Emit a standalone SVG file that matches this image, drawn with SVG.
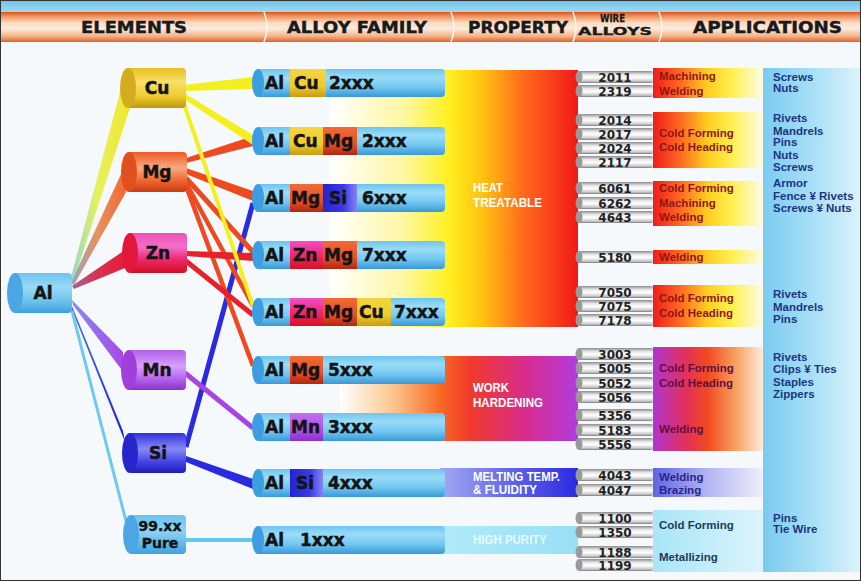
<svg xmlns="http://www.w3.org/2000/svg" width="861" height="581" viewBox="0 0 861 581">
<style>
.hd{font-family:"DejaVu Sans",sans-serif;font-weight:bold;font-size:15px;fill:#1a1a1a;stroke:#1a1a1a;stroke-width:0.4}
.hds{font-family:"DejaVu Sans",sans-serif;font-weight:bold;font-size:10px;fill:#1a1a1a;stroke:#1a1a1a;stroke-width:0.3}
.el{font-family:"DejaVu Sans",sans-serif;font-weight:bold;font-size:17px;fill:#141414;text-anchor:middle;stroke:#141414;stroke-width:0.5}
.el2{font-family:"DejaVu Sans",sans-serif;font-weight:bold;font-size:14px;fill:#141414;text-anchor:middle;stroke:#141414;stroke-width:0.4}
.bt{font-family:"DejaVu Sans",sans-serif;font-weight:bold;font-size:17px;fill:#141414;stroke:#141414;stroke-width:0.5}
.pl{font-family:"Liberation Sans",sans-serif;font-weight:bold;font-size:12px;fill:#ffffff}
.rt{font-family:"DejaVu Sans",sans-serif;font-weight:bold;font-size:12px;fill:#222;text-anchor:middle}
.wl{font-family:"Liberation Sans",sans-serif;font-weight:bold;font-size:11.5px}
.ht{fill:#8e1616}.wh{fill:#5e1040}.mt{fill:#26268a}.pu{fill:#1e3a5a}
.ap{font-family:"Liberation Sans",sans-serif;font-weight:bold;font-size:11.5px;fill:#1c3580}
.rod{fill:url(#gRod)}
.rodcap{fill:#9a9a9a}
.bar{fill:url(#gBar)}
.barcap{fill:#3c9ee0}
</style>
<defs>
<linearGradient id="gSky" x1="0" y1="0" x2="0" y2="1"><stop offset="0" stop-color="#6ec2e8"/><stop offset="1" stop-color="#a6dcf2"/></linearGradient>
<linearGradient id="gHead" x1="0" y1="0" x2="0" y2="1"><stop offset="0" stop-color="#d9541c"/><stop offset="0.12" stop-color="#ee8a50"/><stop offset="0.35" stop-color="#fbd9c0"/><stop offset="0.55" stop-color="#fdebdc"/><stop offset="0.8" stop-color="#f4b48a"/><stop offset="1" stop-color="#e06228"/></linearGradient>
<linearGradient id="gHeat" gradientUnits="userSpaceOnUse" x1="330" y1="0" x2="578" y2="0"><stop offset="0" stop-color="#ffffff"/><stop offset="0.3" stop-color="#fff7a0"/><stop offset="0.48" stop-color="#fff020"/><stop offset="0.62" stop-color="#ffc010"/><stop offset="0.78" stop-color="#ff6a1c"/><stop offset="1" stop-color="#f21818"/></linearGradient>
<linearGradient id="gWork" gradientUnits="userSpaceOnUse" x1="340" y1="0" x2="578" y2="0"><stop offset="0" stop-color="#ffffff"/><stop offset="0.22" stop-color="#fcc890"/><stop offset="0.42" stop-color="#f86a24"/><stop offset="0.55" stop-color="#f03a2c"/><stop offset="0.78" stop-color="#d82c8c"/><stop offset="1" stop-color="#b03ce0"/></linearGradient>
<linearGradient id="gMelt" gradientUnits="userSpaceOnUse" x1="445" y1="0" x2="578" y2="0"><stop offset="0" stop-color="#a0a4f2"/><stop offset="0.5" stop-color="#6064e8"/><stop offset="1" stop-color="#2a2ade"/></linearGradient>
<linearGradient id="gPure" gradientUnits="userSpaceOnUse" x1="445" y1="0" x2="578" y2="0"><stop offset="0" stop-color="#b0eafa"/><stop offset="1" stop-color="#98e0f6"/></linearGradient>
<linearGradient id="sHeat" gradientUnits="userSpaceOnUse" x1="653" y1="0" x2="763" y2="0"><stop offset="0" stop-color="#f01c1c"/><stop offset="0.25" stop-color="#ff6a20"/><stop offset="0.5" stop-color="#ffd020"/><stop offset="0.72" stop-color="#fff050"/><stop offset="1" stop-color="#fdfbe6"/></linearGradient>
<linearGradient id="sWork" gradientUnits="userSpaceOnUse" x1="653" y1="0" x2="763" y2="0"><stop offset="0" stop-color="#b034d0"/><stop offset="0.3" stop-color="#e2305a"/><stop offset="0.5" stop-color="#f24a20"/><stop offset="0.75" stop-color="#f8a060"/><stop offset="1" stop-color="#fcecdc"/></linearGradient>
<linearGradient id="sMelt" gradientUnits="userSpaceOnUse" x1="653" y1="0" x2="763" y2="0"><stop offset="0" stop-color="#6064e6"/><stop offset="0.5" stop-color="#b4b6f2"/><stop offset="1" stop-color="#eeeefc"/></linearGradient>
<linearGradient id="sPure" gradientUnits="userSpaceOnUse" x1="653" y1="0" x2="763" y2="0"><stop offset="0" stop-color="#a8e6f8"/><stop offset="1" stop-color="#dcf4fb"/></linearGradient>
<linearGradient id="gApp" x1="0" y1="0" x2="1" y2="0"><stop offset="0" stop-color="#7acbf0"/><stop offset="0.5" stop-color="#a8dff6"/><stop offset="1" stop-color="#dcf3fb"/></linearGradient>
<linearGradient id="gRod" x1="0" y1="0" x2="0" y2="1"><stop offset="0" stop-color="#8c8c8c"/><stop offset="0.3" stop-color="#e8e8e8"/><stop offset="0.55" stop-color="#ffffff"/><stop offset="0.85" stop-color="#c8c8c8"/><stop offset="1" stop-color="#7a7a7a"/></linearGradient>
<linearGradient id="gBar" x1="0" y1="0" x2="0" y2="1"><stop offset="0" stop-color="#6ec4ee"/><stop offset="0.3" stop-color="#9adcf8"/><stop offset="0.65" stop-color="#72c8f0"/><stop offset="1" stop-color="#3a98d8"/></linearGradient>
<linearGradient id="gAl" x1="0" y1="0" x2="0" y2="1"><stop offset="0" stop-color="#6cc4ee"/><stop offset="0.35" stop-color="#9ad8f6"/><stop offset="0.7" stop-color="#6cc4ee"/><stop offset="1" stop-color="#3e9edc"/></linearGradient>
<linearGradient id="gCu" x1="0" y1="0" x2="0" y2="1"><stop offset="0" stop-color="#e8c020"/><stop offset="0.35" stop-color="#f8e068"/><stop offset="0.7" stop-color="#f0cc30"/><stop offset="1" stop-color="#c09810"/></linearGradient>
<linearGradient id="gMg" x1="0" y1="0" x2="0" y2="1"><stop offset="0" stop-color="#ec5a24"/><stop offset="0.4" stop-color="#f8aa80"/><stop offset="0.7" stop-color="#f06a34"/><stop offset="1" stop-color="#c83a10"/></linearGradient>
<linearGradient id="gZn" x1="0" y1="0" x2="0" y2="1"><stop offset="0" stop-color="#f050b8"/><stop offset="0.35" stop-color="#f070c8"/><stop offset="0.65" stop-color="#f02870"/><stop offset="1" stop-color="#d01020"/></linearGradient>
<linearGradient id="gMn" x1="0" y1="0" x2="0" y2="1"><stop offset="0" stop-color="#b060ec"/><stop offset="0.4" stop-color="#d8a0fa"/><stop offset="0.7" stop-color="#b868f0"/><stop offset="1" stop-color="#8a30cc"/></linearGradient>
<linearGradient id="gSi" x1="0" y1="0" x2="0" y2="1"><stop offset="0" stop-color="#3030dc"/><stop offset="0.4" stop-color="#8888f8"/><stop offset="0.7" stop-color="#4848e8"/><stop offset="1" stop-color="#1c1cb8"/></linearGradient>
<linearGradient id="gPureEl" x1="0" y1="0" x2="0" y2="1"><stop offset="0" stop-color="#6ac4ee"/><stop offset="0.4" stop-color="#8ed4f6"/><stop offset="1" stop-color="#40a2e0"/></linearGradient>
<linearGradient id="sgCu" x1="0" y1="0" x2="0" y2="1"><stop offset="0" stop-color="#f4d440"/><stop offset="0.6" stop-color="#f0cc30"/><stop offset="1" stop-color="#c89c10"/></linearGradient>
<linearGradient id="sgMg" x1="0" y1="0" x2="0" y2="1"><stop offset="0" stop-color="#f06a34"/><stop offset="0.6" stop-color="#e8502a"/><stop offset="1" stop-color="#b02810"/></linearGradient>
<linearGradient id="sgZn" x1="0" y1="0" x2="0" y2="1"><stop offset="0" stop-color="#f050c8"/><stop offset="0.5" stop-color="#f02870"/><stop offset="1" stop-color="#d81020"/></linearGradient>
<linearGradient id="sgSi" x1="0" y1="0" x2="1" y2="0"><stop offset="0" stop-color="#2424d0"/><stop offset="0.6" stop-color="#3a3ae4"/><stop offset="1" stop-color="#8484f4"/></linearGradient>
<linearGradient id="sgMn" x1="0" y1="0" x2="0" y2="1"><stop offset="0" stop-color="#c070f0"/><stop offset="0.6" stop-color="#b050e8"/><stop offset="1" stop-color="#8a30cc"/></linearGradient>
<linearGradient id="wCu" x1="0" y1="0" x2="1" y2="0"><stop offset="0" stop-color="#90d8d0"/><stop offset="0.45" stop-color="#e8f060"/><stop offset="1" stop-color="#f0e830"/></linearGradient>
<linearGradient id="wMg" x1="0" y1="0" x2="1" y2="0"><stop offset="0" stop-color="#9aa4c0"/><stop offset="0.5" stop-color="#e89060"/><stop offset="1" stop-color="#f06a30"/></linearGradient>
<linearGradient id="wZn" x1="0" y1="0" x2="1" y2="0"><stop offset="0" stop-color="#a06890"/><stop offset="0.5" stop-color="#d83050"/><stop offset="1" stop-color="#e81c38"/></linearGradient>
<linearGradient id="wMn" x1="0" y1="0" x2="1" y2="0"><stop offset="0" stop-color="#8a8ae8"/><stop offset="1" stop-color="#a848e8"/></linearGradient>
<linearGradient id="wSi" x1="0" y1="0" x2="1" y2="0"><stop offset="0" stop-color="#4a70e4"/><stop offset="1" stop-color="#2222d8"/></linearGradient>
</defs>

<rect x="0" y="0" width="861" height="581" fill="#f6f9fb"/>

<g id="header">
<rect x="0" y="0" width="861" height="13" fill="url(#gSky)"/>
<rect x="0" y="12" width="861" height="30" fill="url(#gHead)"/>
<path d="M264,12 Q270,27 264,42 M451,12 Q457,27 451,42 M573,12 Q579,27 573,42 M659,12 Q665,27 659,42" fill="none" stroke="#fff6ee" stroke-width="1.5"/>
<text class="hd" x="81" y="33" textLength="106" lengthAdjust="spacingAndGlyphs">ELEMENTS</text>
<text class="hd" x="287" y="33" textLength="140" lengthAdjust="spacingAndGlyphs">ALLOY FAMILY</text>
<text class="hd" x="468" y="33" textLength="100" lengthAdjust="spacingAndGlyphs">PROPERTY</text>
<text class="hds" x="600" y="22" textLength="25" lengthAdjust="spacingAndGlyphs">WIRE</text>
<text class="hds" x="578" y="35" textLength="74" lengthAdjust="spacingAndGlyphs">ALLOYS</text>
<text class="hd" x="693" y="33" textLength="149" lengthAdjust="spacingAndGlyphs">APPLICATIONS</text>
</g>

<g id="property-bands">
<rect x="330" y="70" width="248" height="257" fill="url(#gHeat)"/>
<rect x="340" y="356" width="238" height="85" fill="url(#gWork)"/>
<rect x="440" y="468" width="138" height="29" fill="url(#gMelt)"/>
<rect x="440" y="526" width="138" height="28" fill="url(#gPure)"/>
<text class="pl" x="473" y="192" textLength="30" lengthAdjust="spacingAndGlyphs">HEAT</text>
<text class="pl" x="473" y="207" textLength="69" lengthAdjust="spacingAndGlyphs">TREATABLE</text>
<text class="pl" x="473" y="392" textLength="36" lengthAdjust="spacingAndGlyphs">WORK</text>
<text class="pl" x="473" y="407" textLength="70" lengthAdjust="spacingAndGlyphs">HARDENING</text>
<text class="pl" x="473" y="481" textLength="87" lengthAdjust="spacingAndGlyphs">MELTING TEMP.</text>
<text class="pl" x="473" y="494" textLength="64" lengthAdjust="spacingAndGlyphs">&amp; FLUIDITY</text>
<text class="pl" x="473" y="544" textLength="74" lengthAdjust="spacingAndGlyphs" fill-opacity="0.75">HIGH PURITY</text>
</g>

<g id="wire-strips">
<rect x="653" y="68" width="110" height="30" fill="url(#sHeat)"/>
<rect x="653" y="112" width="110" height="56" fill="url(#sHeat)"/>
<rect x="653" y="181" width="110" height="45" fill="url(#sHeat)"/>
<rect x="653" y="250" width="110" height="14" fill="url(#sHeat)"/>
<rect x="653" y="285" width="110" height="42" fill="url(#sHeat)"/>
<rect x="653" y="347" width="110" height="104" fill="url(#sWork)"/>
<rect x="653" y="468" width="110" height="29" fill="url(#sMelt)"/>
<rect x="653" y="510" width="110" height="62" fill="url(#sPure)"/>
</g>

<g id="applications-band">
<rect x="763" y="68" width="98" height="504" fill="url(#gApp)"/>
</g>

<g id="connectors">
<polygon points="70,281 73,283 130,108 120,92" fill="url(#wCu)"/>
<polygon points="71,283 74,285 126,192 121,174" fill="url(#wMg)"/>
<polygon points="72,286 74,289 125,268 125,250" fill="url(#wZn)"/>
<polygon points="72,300 73,305 124,373 123,352" fill="url(#wMn)"/>
<polygon points="72,306 72,310 125,442 123,431" fill="url(#wSi)"/>
<line x1="72" y1="311" x2="126" y2="521" stroke="#6ccaf0" stroke-width="3"/>
<line x1="186" y1="447" x2="253" y2="203" stroke="#2a2ae0" stroke-width="5"/>
<polygon points="186,456 186,462 253,489 253,479" fill="#2a2ae0"/>
<polygon points="186,158 186,163 253,146 253,136" fill="#ee4a22"/>
<polygon points="186,168 186,174 253,201 253,191" fill="#ee4a22"/>
<line x1="186" y1="178" x2="253" y2="252" stroke="#ee4a22" stroke-width="5"/>
<line x1="186" y1="183" x2="253" y2="306" stroke="#ee4a22" stroke-width="4.5"/>
<line x1="186" y1="186" x2="253" y2="366" stroke="#ee4a22" stroke-width="4.5"/>
<polygon points="186,251 186,256 253,261 253,253" fill="#e8202a"/>
<line x1="186" y1="261" x2="253" y2="315" stroke="#e8202a" stroke-width="5"/>
<polygon points="184,85 184,91 253,89 253,77" fill="#f4f020"/>
<polygon points="184,93 184,99 253,145 253,135" fill="#f4f020"/>
<line x1="184" y1="104" x2="253" y2="306" stroke="#f4f020" stroke-width="4"/>
<line x1="185" y1="373" x2="253" y2="428" stroke="#a844e4" stroke-width="5"/>
<line x1="185" y1="540" x2="253" y2="540" stroke="#62c8f0" stroke-width="4"/>
</g>

<g id="node-Al">
<path d="M15,273 H68 Q72,273 72,277 V309 Q72,313 68,313 H15 Z" fill="url(#gAl)"/>
<ellipse cx="15" cy="293" rx="8" ry="20" fill="#4aa6e4"/>
<text class="el" x="43" y="299">Al</text>
</g>
<g id="node-Cu">
<path d="M128,68 H182 Q186,68 186,72 V104 Q186,108 182,108 H128 Z" fill="url(#gCu)"/>
<ellipse cx="128" cy="88" rx="8" ry="20" fill="#d4ac1c"/>
<text class="el" x="157" y="94">Cu</text>
</g>
<g id="node-Mg">
<path d="M129,152 H183 Q187,152 187,156 V188 Q187,192 183,192 H129 Z" fill="url(#gMg)"/>
<ellipse cx="129" cy="172" rx="8" ry="20" fill="#e0501e"/>
<text class="el" x="157" y="178">Mg</text>
</g>
<g id="node-Zn">
<path d="M130,233 H183 Q187,233 187,237 V269 Q187,273 183,273 H130 Z" fill="url(#gZn)"/>
<ellipse cx="130" cy="253" rx="8" ry="20" fill="#e0183a"/>
<text class="el" x="158" y="259">Zn</text>
</g>
<g id="node-Mn">
<path d="M129,350 H182 Q186,350 186,354 V386 Q186,390 182,390 H129 Z" fill="url(#gMn)"/>
<ellipse cx="129" cy="370" rx="8" ry="20" fill="#a040dc"/>
<text class="el" x="157" y="376">Mn</text>
</g>
<g id="node-Si">
<path d="M130,433 H182 Q186,433 186,437 V469 Q186,473 182,473 H130 Z" fill="url(#gSi)"/>
<ellipse cx="130" cy="453" rx="8" ry="20" fill="#2626cc"/>
<text class="el" x="158" y="459">Si</text>
</g>
<g id="node-Pure">
<path d="M131,515 H182 Q186,515 186,519 V550 Q186,554 182,554 H131 Z" fill="url(#gPureEl)"/>
<ellipse cx="131" cy="534.5" rx="8" ry="19.5" fill="#4aa6e4"/>
<text class="el2" x="160" y="531">99.xx</text>
<text class="el2" x="160" y="548">Pure</text>
</g>

<g id="bar-2xxx-Cu">
<path d="M258,69 H441 Q445,69 445,73 V93 Q445,97 441,97 H258 Z" class="bar"/>
<rect x="290" y="69" width="36" height="28" fill="url(#sgCu)"/>
<ellipse cx="258" cy="83" rx="6" ry="14" class="barcap"/>
<text class="bt" x="265" y="89">Al</text><text class="bt" x="294" y="89">Cu</text><text class="bt" x="329" y="89">2xxx</text>
</g>
<g id="bar-2xxx-CuMg">
<path d="M258,127 H441 Q445,127 445,131 V151 Q445,155 441,155 H258 Z" class="bar"/>
<rect x="290" y="127" width="33" height="28" fill="url(#sgCu)"/>
<rect x="323" y="127" width="34" height="28" fill="url(#sgMg)"/>
<ellipse cx="258" cy="141" rx="6" ry="14" class="barcap"/>
<text class="bt" x="265" y="147">Al</text><text class="bt" x="293" y="147">Cu</text><text class="bt" x="324" y="147">Mg</text><text class="bt" x="362" y="147">2xxx</text>
</g>
<g id="bar-6xxx">
<path d="M258,184 H441 Q445,184 445,188 V208 Q445,212 441,212 H258 Z" class="bar"/>
<rect x="290" y="184" width="33" height="28" fill="url(#sgMg)"/>
<rect x="323" y="184" width="34" height="28" fill="url(#sgSi)"/>
<ellipse cx="258" cy="198" rx="6" ry="14" class="barcap"/>
<text class="bt" x="265" y="204">Al</text><text class="bt" x="291" y="204">Mg</text><text class="bt" x="329" y="204">Si</text><text class="bt" x="362" y="204">6xxx</text>
</g>
<g id="bar-7xxx-ZnMg">
<path d="M258,241 H441 Q445,241 445,245 V265 Q445,269 441,269 H258 Z" class="bar"/>
<rect x="290" y="241" width="33" height="28" fill="url(#sgZn)"/>
<rect x="323" y="241" width="34" height="28" fill="url(#sgMg)"/>
<ellipse cx="258" cy="255" rx="6" ry="14" class="barcap"/>
<text class="bt" x="265" y="261">Al</text><text class="bt" x="293" y="261">Zn</text><text class="bt" x="324" y="261">Mg</text><text class="bt" x="362" y="261">7xxx</text>
</g>
<g id="bar-7xxx-ZnMgCu">
<path d="M258,298 H441 Q445,298 445,302 V322 Q445,326 441,326 H258 Z" class="bar"/>
<rect x="290" y="298" width="33" height="28" fill="url(#sgZn)"/>
<rect x="323" y="298" width="34" height="28" fill="url(#sgMg)"/>
<rect x="357" y="298" width="34" height="28" fill="url(#sgCu)"/>
<ellipse cx="258" cy="312" rx="6" ry="14" class="barcap"/>
<text class="bt" x="265" y="318">Al</text><text class="bt" x="293" y="318">Zn</text><text class="bt" x="324" y="318">Mg</text><text class="bt" x="359" y="318">Cu</text><text class="bt" x="394" y="318">7xxx</text>
</g>
<g id="bar-5xxx">
<path d="M258,356 H441 Q445,356 445,360 V380 Q445,384 441,384 H258 Z" class="bar"/>
<rect x="290" y="356" width="33" height="28" fill="url(#sgMg)"/>
<ellipse cx="258" cy="370" rx="6" ry="14" class="barcap"/>
<text class="bt" x="265" y="376">Al</text><text class="bt" x="291" y="376">Mg</text><text class="bt" x="328" y="376">5xxx</text>
</g>
<g id="bar-3xxx">
<path d="M258,413 H441 Q445,413 445,417 V437 Q445,441 441,441 H258 Z" class="bar"/>
<rect x="290" y="413" width="33" height="28" fill="url(#sgMn)"/>
<ellipse cx="258" cy="427" rx="6" ry="14" class="barcap"/>
<text class="bt" x="265" y="433">Al</text><text class="bt" x="291" y="433">Mn</text><text class="bt" x="328" y="433">3xxx</text>
</g>
<g id="bar-4xxx">
<path d="M258,469 H441 Q445,469 445,473 V493 Q445,497 441,497 H258 Z" class="bar"/>
<rect x="290" y="469" width="33" height="28" fill="url(#sgSi)"/>
<ellipse cx="258" cy="483" rx="6" ry="14" class="barcap"/>
<text class="bt" x="265" y="489">Al</text><text class="bt" x="296" y="489">Si</text><text class="bt" x="328" y="489">4xxx</text>
</g>
<g id="bar-1xxx">
<path d="M258,526 H441 Q445,526 445,530 V550 Q445,554 441,554 H258 Z" class="bar"/>
<ellipse cx="258" cy="540" rx="6" ry="14" class="barcap"/>
<text class="bt" x="265" y="546">Al</text><text class="bt" x="300" y="546">1xxx</text>
</g>

<g id="wire-alloys">
<g id="w2011"><rect class="rod" x="578" y="71" width="75" height="12" rx="2"/><ellipse class="rodcap" cx="579" cy="77" rx="3.5" ry="6"/><text class="rt" x="615" y="81.5">2011</text></g>
<g id="w2319"><rect class="rod" x="578" y="85" width="75" height="12" rx="2"/><ellipse class="rodcap" cx="579" cy="91" rx="3.5" ry="6"/><text class="rt" x="615" y="95.5">2319</text></g>
<g id="w2014"><rect class="rod" x="578" y="114" width="75" height="12" rx="2"/><ellipse class="rodcap" cx="579" cy="120" rx="3.5" ry="6"/><text class="rt" x="615" y="124.5">2014</text></g>
<g id="w2017"><rect class="rod" x="578" y="128" width="75" height="12" rx="2"/><ellipse class="rodcap" cx="579" cy="134" rx="3.5" ry="6"/><text class="rt" x="615" y="138.5">2017</text></g>
<g id="w2024"><rect class="rod" x="578" y="142" width="75" height="12" rx="2"/><ellipse class="rodcap" cx="579" cy="148" rx="3.5" ry="6"/><text class="rt" x="615" y="152.5">2024</text></g>
<g id="w2117"><rect class="rod" x="578" y="156" width="75" height="12" rx="2"/><ellipse class="rodcap" cx="579" cy="162" rx="3.5" ry="6"/><text class="rt" x="615" y="166.5">2117</text></g>
<g id="w6061"><rect class="rod" x="578" y="182" width="75" height="12" rx="2"/><ellipse class="rodcap" cx="579" cy="188" rx="3.5" ry="6"/><text class="rt" x="615" y="192.5">6061</text></g>
<g id="w6262"><rect class="rod" x="578" y="197" width="75" height="12" rx="2"/><ellipse class="rodcap" cx="579" cy="203" rx="3.5" ry="6"/><text class="rt" x="615" y="207.5">6262</text></g>
<g id="w4643"><rect class="rod" x="578" y="211" width="75" height="12" rx="2"/><ellipse class="rodcap" cx="579" cy="217" rx="3.5" ry="6"/><text class="rt" x="615" y="221.5">4643</text></g>
<g id="w5180"><rect class="rod" x="578" y="251" width="75" height="12" rx="2"/><ellipse class="rodcap" cx="579" cy="257" rx="3.5" ry="6"/><text class="rt" x="615" y="261.5">5180</text></g>
<g id="w7050"><rect class="rod" x="578" y="286" width="75" height="12" rx="2"/><ellipse class="rodcap" cx="579" cy="292" rx="3.5" ry="6"/><text class="rt" x="615" y="296.5">7050</text></g>
<g id="w7075"><rect class="rod" x="578" y="300" width="75" height="12" rx="2"/><ellipse class="rodcap" cx="579" cy="306" rx="3.5" ry="6"/><text class="rt" x="615" y="310.5">7075</text></g>
<g id="w7178"><rect class="rod" x="578" y="314" width="75" height="12" rx="2"/><ellipse class="rodcap" cx="579" cy="320" rx="3.5" ry="6"/><text class="rt" x="615" y="324.5">7178</text></g>
<g id="w3003"><rect class="rod" x="578" y="348" width="75" height="12" rx="2"/><ellipse class="rodcap" cx="579" cy="354" rx="3.5" ry="6"/><text class="rt" x="615" y="358.5">3003</text></g>
<g id="w5005"><rect class="rod" x="578" y="362" width="75" height="12" rx="2"/><ellipse class="rodcap" cx="579" cy="368" rx="3.5" ry="6"/><text class="rt" x="615" y="372.5">5005</text></g>
<g id="w5052"><rect class="rod" x="578" y="377" width="75" height="12" rx="2"/><ellipse class="rodcap" cx="579" cy="383" rx="3.5" ry="6"/><text class="rt" x="615" y="387.5">5052</text></g>
<g id="w5056"><rect class="rod" x="578" y="391" width="75" height="12" rx="2"/><ellipse class="rodcap" cx="579" cy="397" rx="3.5" ry="6"/><text class="rt" x="615" y="401.5">5056</text></g>
<g id="w5356"><rect class="rod" x="578" y="409" width="75" height="12" rx="2"/><ellipse class="rodcap" cx="579" cy="415" rx="3.5" ry="6"/><text class="rt" x="615" y="419.5">5356</text></g>
<g id="w5183"><rect class="rod" x="578" y="424" width="75" height="12" rx="2"/><ellipse class="rodcap" cx="579" cy="430" rx="3.5" ry="6"/><text class="rt" x="615" y="434.5">5183</text></g>
<g id="w5556"><rect class="rod" x="578" y="438" width="75" height="12" rx="2"/><ellipse class="rodcap" cx="579" cy="444" rx="3.5" ry="6"/><text class="rt" x="615" y="448.5">5556</text></g>
<g id="w4043"><rect class="rod" x="578" y="469" width="75" height="12" rx="2"/><ellipse class="rodcap" cx="579" cy="475" rx="3.5" ry="6"/><text class="rt" x="615" y="479.5">4043</text></g>
<g id="w4047"><rect class="rod" x="578" y="484" width="75" height="12" rx="2"/><ellipse class="rodcap" cx="579" cy="490" rx="3.5" ry="6"/><text class="rt" x="615" y="494.5">4047</text></g>
<g id="w1100"><rect class="rod" x="578" y="512" width="75" height="12" rx="2"/><ellipse class="rodcap" cx="579" cy="518" rx="3.5" ry="6"/><text class="rt" x="615" y="522.5">1100</text></g>
<g id="w1350"><rect class="rod" x="578" y="526" width="75" height="12" rx="2"/><ellipse class="rodcap" cx="579" cy="532" rx="3.5" ry="6"/><text class="rt" x="615" y="536.5">1350</text></g>
<g id="w1188"><rect class="rod" x="578" y="546" width="75" height="12" rx="2"/><ellipse class="rodcap" cx="579" cy="552" rx="3.5" ry="6"/><text class="rt" x="615" y="556.5">1188</text></g>
<g id="w1199"><rect class="rod" x="578" y="559" width="75" height="12" rx="2"/><ellipse class="rodcap" cx="579" cy="565" rx="3.5" ry="6"/><text class="rt" x="615" y="569.5">1199</text></g>
</g>

<g id="wire-properties">
<text class="wl ht" x="659" y="80">Machining</text>
<text class="wl ht" x="659" y="95">Welding</text>
<text class="wl ht" x="659" y="137">Cold Forming</text>
<text class="wl ht" x="659" y="151">Cold Heading</text>
<text class="wl ht" x="659" y="192">Cold Forming</text>
<text class="wl ht" x="659" y="207">Machining</text>
<text class="wl ht" x="659" y="221">Welding</text>
<text class="wl ht" x="659" y="261">Welding</text>
<text class="wl ht" x="659" y="302">Cold Forming</text>
<text class="wl ht" x="659" y="317">Cold Heading</text>
<text class="wl wh" x="659" y="372">Cold Forming</text>
<text class="wl wh" x="659" y="387">Cold Heading</text>
<text class="wl wh" x="659" y="433">Welding</text>
<text class="wl mt" x="659" y="481">Welding</text>
<text class="wl mt" x="659" y="494">Brazing</text>
<text class="wl pu" x="659" y="529">Cold Forming</text>
<text class="wl pu" x="659" y="561">Metallizing</text>
</g>

<g id="applications">
<text class="ap" x="773" y="81">Screws</text>
<text class="ap" x="773" y="92">Nuts</text>
<text class="ap" x="773" y="122">Rivets</text>
<text class="ap" x="773" y="135">Mandrels</text>
<text class="ap" x="773" y="146">Pins</text>
<text class="ap" x="773" y="159">Nuts</text>
<text class="ap" x="773" y="171">Screws</text>
<text class="ap" x="773" y="187">Armor</text>
<text class="ap" x="773" y="200">Fence ¥ Rivets</text>
<text class="ap" x="773" y="212">Screws ¥ Nuts</text>
<text class="ap" x="773" y="298">Rivets</text>
<text class="ap" x="773" y="311">Mandrels</text>
<text class="ap" x="773" y="323">Pins</text>
<text class="ap" x="773" y="361">Rivets</text>
<text class="ap" x="773" y="373">Clips ¥ Ties</text>
<text class="ap" x="773" y="386">Staples</text>
<text class="ap" x="773" y="398">Zippers</text>
<text class="ap" x="773" y="522">Pins</text>
<text class="ap" x="773" y="533">Tie Wire</text>
</g>

<rect x="0.5" y="0.5" width="860" height="580" fill="none" stroke="#333" stroke-width="1"/>
</svg>
